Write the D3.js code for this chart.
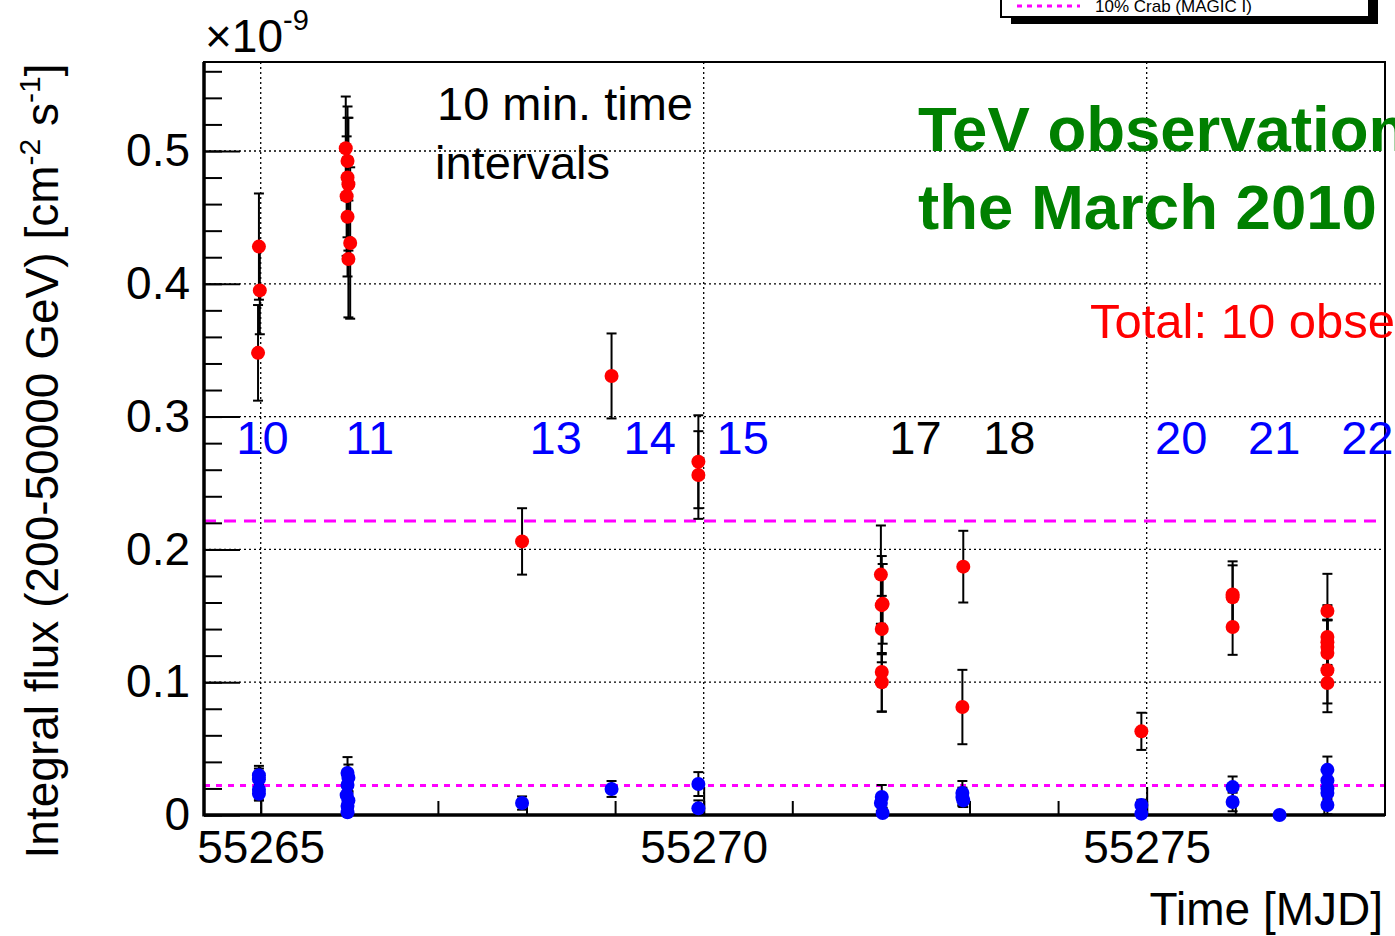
<!DOCTYPE html>
<html>
<head>
<meta charset="utf-8">
<script src="https://cdn.jsdelivr.net/npm/d3@7/dist/d3.min.js"></script>
<style>
  body { margin: 0; background: #fff; overflow: hidden; }
  svg { display: block; font-family: "Liberation Sans", Arial, sans-serif; }
</style>
</head>
<body>
<script>
// flux values in units of 1e-9 cm^-2 s^-1, time in MJD
// red series: source flux
const redMjd = [
  55264.98, 55264.99, 55264.97,
  55265.96, 55265.98, 55265.98, 55265.99, 55265.97, 55265.98, 55266.01, 55265.99,
  55267.95, 55268.96, 55269.94, 55269.94,
  55272.00, 55272.02, 55272.01, 55272.01, 55272.01, 55272.01,
  55272.93, 55272.92, 55274.94,
  55275.97, 55275.97, 55275.97,
  55277.04, 55277.04, 55277.04, 55277.04, 55277.04, 55277.04, 55277.04
];
const redFlux = [
  0.428, 0.395, 0.348,
  0.502, 0.4925, 0.480, 0.475, 0.466, 0.4505, 0.4307, 0.4187,
  0.206, 0.3306, 0.266, 0.256,
  0.181, 0.159, 0.158, 0.140, 0.1077, 0.100,
  0.187, 0.0813, 0.063,
  0.166, 0.164, 0.1416,
  0.1536, 0.134, 0.130, 0.1265, 0.122, 0.109, 0.0994
];
const redErr = [
  0.040, 0.033, 0.036,
  0.039, 0.041, 0.045, 0.050, 0.045, 0.045, 0.057, 0.044,
  0.025, 0.032, 0.035, 0.033,
  0.037, 0.030, 0.037, 0.025, 0.030, 0.022,
  0.027, 0.028, 0.014,
  0.025, 0.024, 0.021,
  0.028, 0.024, 0.017, 0.020, 0.025, 0.025, 0.022
];
// blue series: low-flux points
const blueMjd = [
  55264.98, 55264.98, 55264.98, 55264.98,
  55265.98, 55265.99, 55265.98, 55265.97, 55265.99, 55265.98, 55265.98,
  55267.95, 55268.96, 55269.94, 55269.94,
  55272.01, 55272.00, 55272.02,
  55272.92, 55272.92, 55272.93,
  55274.94, 55274.94,
  55275.97, 55275.97, 55276.50,
  55277.04, 55277.04, 55277.04, 55277.04, 55277.04
];
const blueFlux = [
  0.030, 0.027, 0.019, 0.016,
  0.0316, 0.028, 0.0226, 0.015, 0.011, 0.0068, 0.002,
  0.009, 0.0196, 0.0233, 0.005,
  0.0136, 0.009, 0.0015,
  0.0166, 0.0136, 0.011,
  0.0075, 0.001,
  0.021, 0.0098, 0.0,
  0.034, 0.026, 0.020, 0.0166, 0.0075
];
const blueErr = [
  0.007, 0.008, 0.008, 0.005,
  0.012, 0.010, 0.008, 0.008, 0.006, 0.006, 0.004,
  0.005, 0.006, 0.009, 0.006,
  0.009, 0.006, 0.004,
  0.009, 0.007, 0.005,
  0.004, 0.003,
  0.008, 0.007, 0.002,
  0.010, 0.010, 0.008, 0.008, 0.007
];
// observation night labels
const nightLabels = ["10", "11", "13", "14", "15", "17", "18", "20", "21", "22"];
const nightMjd = [55265.02, 55266.23, 55268.33, 55269.39, 55270.44, 55272.39, 55273.45, 55275.39, 55276.44, 55277.49];
const nightColor = ["blue", "blue", "blue", "blue", "blue", "black", "black", "blue", "blue", "blue"];

const crabFlux = 0.2214;
const crab10Flux = 0.02214;
const xTicks = [55265, 55270, 55275];
const yTicks = [0, 0.1, 0.2, 0.3, 0.4, 0.5];

const W = 1395, H = 936;
const frame = { left: 204, right: 1385, top: 62, bottom: 815 };

const svg = d3.select("body").append("svg")
  .attr("width", W).attr("height", H);

const x = d3.scaleLinear().domain([55264.36, 55277.69]).range([frame.left, frame.right]);
const y = d3.scaleLinear().domain([0, 0.567]).range([frame.bottom, frame.top]);

// grid
const grid = svg.append("g").attr("stroke", "#000").attr("stroke-width", 1.3).attr("stroke-dasharray", "2,3");
grid.selectAll(".gx").data(xTicks).join("line")
  .attr("x1", d => x(d)).attr("x2", d => x(d))
  .attr("y1", frame.top).attr("y2", frame.bottom);
grid.selectAll(".gy").data(yTicks.filter(d => d > 0)).join("line")
  .attr("x1", frame.left).attr("x2", frame.right)
  .attr("y1", d => y(d)).attr("y2", d => y(d));

// crab reference lines
svg.append("line")
  .attr("x1", frame.left).attr("x2", frame.right)
  .attr("y1", y(crabFlux)).attr("y2", y(crabFlux))
  .attr("stroke", "#ff00ff").attr("stroke-width", 3).attr("stroke-dasharray", "12,8");
svg.append("line")
  .attr("x1", frame.left).attr("x2", frame.right)
  .attr("y1", y(crab10Flux)).attr("y2", y(crab10Flux))
  .attr("stroke", "#ff00ff").attr("stroke-width", 3).attr("stroke-dasharray", "6,6");

// axes
const xMinor = svg.append("g").attr("transform", `translate(0,${frame.bottom})`)
  .call(d3.axisBottom(x).tickValues(d3.range(55265, 55278)).tickSize(-14).tickFormat(""));
const xMajor = svg.append("g").attr("transform", `translate(0,${frame.bottom})`)
  .call(d3.axisBottom(x).tickValues(xTicks).tickSize(-28).tickPadding(15).tickFormat(d3.format("d")));
const yMinor = svg.append("g").attr("transform", `translate(${frame.left},0)`)
  .call(d3.axisLeft(y).tickValues(d3.range(0, 0.561, 0.02)).tickSize(-18).tickFormat(""));
const yMajor = svg.append("g").attr("transform", `translate(${frame.left},0)`)
  .call(d3.axisLeft(y).tickValues(yTicks).tickSize(-36).tickPadding(14)
    .tickFormat(d => d === 0 ? "0" : d3.format(".1f")(d)));

[xMinor, xMajor, yMinor, yMajor].forEach(g => {
  g.select(".domain").remove();
  g.selectAll("line").attr("stroke", "#000").attr("stroke-width", 2);
  g.selectAll("text").attr("font-size", 46).attr("fill", "#000")
    .attr("font-family", "'Liberation Sans', Arial, sans-serif");
});

// frame
svg.append("rect")
  .attr("x", frame.left).attr("y", frame.top)
  .attr("width", frame.right - frame.left).attr("height", frame.bottom - frame.top)
  .attr("fill", "none").attr("stroke", "#000").attr("stroke-width", 2);
svg.append("line").attr("x1", frame.left).attr("x2", frame.left)
  .attr("y1", frame.top).attr("y2", frame.bottom + 1.5)
  .attr("stroke", "#000").attr("stroke-width", 3.5);
svg.append("line").attr("x1", frame.left).attr("x2", frame.right)
  .attr("y1", frame.bottom).attr("y2", frame.bottom)
  .attr("stroke", "#000").attr("stroke-width", 3.5);

// data: error bars, then markers
function drawSeries(mjd, flux, err, color) {
  const pts = mjd.map((m, i) => ({ m, f: flux[i], e: err[i] }));
  const eb = svg.append("g").attr("stroke", "#000").attr("stroke-width", 2);
  eb.selectAll(".v").data(pts).join("line")
    .attr("x1", d => x(d.m)).attr("x2", d => x(d.m))
    .attr("y1", d => y(Math.max(0, d.f - d.e))).attr("y2", d => y(d.f + d.e));
  eb.selectAll(".t").data(pts).join("line")
    .attr("x1", d => x(d.m) - 5).attr("x2", d => x(d.m) + 5)
    .attr("y1", d => y(d.f + d.e)).attr("y2", d => y(d.f + d.e));
  eb.selectAll(".b").data(pts.filter(d => d.f - d.e > 0)).join("line")
    .attr("x1", d => x(d.m) - 5).attr("x2", d => x(d.m) + 5)
    .attr("y1", d => y(d.f - d.e)).attr("y2", d => y(d.f - d.e));
  svg.append("g").selectAll("circle").data(pts).join("circle")
    .attr("cx", d => x(d.m)).attr("cy", d => y(d.f)).attr("r", 7)
    .attr("fill", color);
}
drawSeries(redMjd, redFlux, redErr, "#ff0000");
drawSeries(blueMjd, blueFlux, blueErr, "#0000ff");

// axis titles
const yl = svg.append("text")
  .attr("transform", "translate(58,461) rotate(-90)")
  .attr("text-anchor", "middle").attr("font-size", 46).attr("fill", "#000");
yl.append("tspan").text("Integral flux (200-50000 GeV) [cm");
yl.append("tspan").attr("font-size", 30).attr("dy", -18).text("-2");
yl.append("tspan").attr("dy", 18).text(" s");
yl.append("tspan").attr("font-size", 30).attr("dy", -18).text("-1");
yl.append("tspan").attr("dy", 18).text("]");

const exp = svg.append("text").attr("x", 205).attr("y", 52).attr("font-size", 46).attr("fill", "#000");
exp.append("tspan").text("\u00d710");
exp.append("tspan").attr("font-size", 29).attr("dy", -22).text("-9");

svg.append("text").attr("x", 1383).attr("y", 925).attr("text-anchor", "end")
  .attr("font-size", 46).attr("fill", "#000").text("Time [MJD]");

// annotations (the reference cuts the right-hand texts at the page edge)
svg.append("text").attr("x", 437).attr("y", 120).attr("font-size", 47).text("10 min. time");
svg.append("text").attr("x", 435).attr("y", 179).attr("font-size", 47).text("intervals");
svg.append("text").attr("x", 918).attr("y", 151).attr("font-size", 63.5).attr("font-weight", "bold")
  .attr("fill", "#008000").text("TeV observations");
svg.append("text").attr("x", 918).attr("y", 229).attr("font-size", 63.5).attr("font-weight", "bold")
  .attr("fill", "#008000").text("the March 2010");
svg.append("text").attr("x", 1090).attr("y", 338).attr("font-size", 49)
  .attr("fill", "#ff0000").text("Total: 10 observations");

svg.append("g").selectAll("text").data(nightLabels).join("text")
  .attr("x", (d, i) => x(nightMjd[i])).attr("y", 454)
  .attr("text-anchor", "middle").attr("font-size", 47)
  .attr("fill", (d, i) => nightColor[i]).text(d => d);

// legend (mostly outside the picture)
svg.append("rect").attr("x", 1011).attr("y", -60).attr("width", 367).attr("height", 84).attr("fill", "#000");
svg.append("rect").attr("x", 1001).attr("y", -66).attr("width", 368).attr("height", 83)
  .attr("fill", "#fff").attr("stroke", "#000").attr("stroke-width", 2);
svg.append("line").attr("x1", 1017).attr("x2", 1080).attr("y1", 6).attr("y2", 6)
  .attr("stroke", "#ff00ff").attr("stroke-width", 3).attr("stroke-dasharray", "5,5");
svg.append("text").attr("x", 1095).attr("y", 12).attr("font-size", 17).attr("fill", "#000")
  .text("10% Crab (MAGIC I)");
</script>
</body>
</html>
